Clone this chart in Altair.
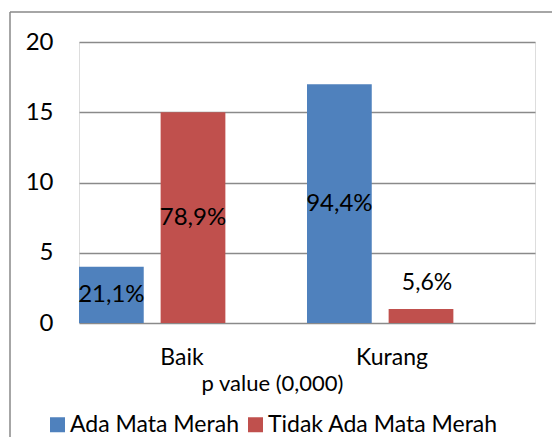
import altair as alt
import pandas as pd

categories = ["Baik", "Kurang"]
series = ["Ada Mata Merah", "Tidak Ada Mata Merah"]
ada_values = [4, 17]
tidak_values = [15, 1]
ada_labels = ["21,1%", "94,4%"]
tidak_labels = ["78,9%", "5,6%"]
colors = ["#4F81BD", "#C0504D"]

rows = []
for i, c in enumerate(categories):
    rows.append({"category": c, "series": series[0], "value": ada_values[i], "label": ada_labels[i]})
    rows.append({"category": c, "series": series[1], "value": tidak_values[i], "label": tidak_labels[i]})
df = pd.DataFrame(rows)

FONT = "Lato"

x_enc = alt.X(
    "category:N",
    scale=alt.Scale(domain=categories, paddingInner=0, paddingOuter=0),
    axis=alt.Axis(
        title="p value (0,000)",
        labelAngle=0,
        labelFont=FONT,
        labelFontSize=23,
        labelColor="#000000",
        labelPadding=23,
        labelOffset={"condition": {"test": "datum.value === 'Baik'", "value": -11}, "value": -29},
        ticks=False,
        domain=False,
        titleFont=FONT,
        titleFontSize=22,
        titleFontWeight="normal",
        titleColor="#000000",
        titleX=193,
        titleY=67,
        titleAlign="center",
        titleBaseline="alphabetic",
    ),
)
xoff_enc = alt.XOffset(
    "series:N",
    scale=alt.Scale(domain=series + ["_"], paddingInner=0.207, paddingOuter=0),
)

bars = alt.Chart(df).mark_bar().encode(
    x=x_enc,
    xOffset=xoff_enc,
    y=alt.Y(
        "value:Q",
        scale=alt.Scale(domain=[0, 20], nice=False),
        axis=alt.Axis(
            title=None,
            values=[0, 5, 10, 15, 20],
            grid=True,
            gridColor="#8a8a8a",
            gridWidth=1.5,
            domain=False,
            ticks=False,
            labelFont=FONT,
            labelFontSize=24,
            labelColor="#000000",
            labelPadding=26,
        ),
    ),
    color=alt.Color(
        "series:N",
        scale=alt.Scale(domain=series, range=colors),
        legend=alt.Legend(
            orient="none",
            legendX=-33,
            legendY=371,
            direction="horizontal",
            title=None,
            symbolType="square",
            symbolSize=225,
            symbolStrokeWidth=0,
            labelFont=FONT,
            labelFontSize=23,
            labelColor="#000000",
            labelLimit=400,
            labelOffset=1,
            columnPadding=5,
            padding=0,
        ),
    ),
)

inside = alt.Chart(df).transform_filter("datum.value >= 2").transform_calculate(
    mid="datum.value / 2"
).mark_text(font=FONT, fontSize=24, color="#000000", baseline="middle").encode(
    x=alt.X("category:N", scale=alt.Scale(domain=categories, paddingInner=0, paddingOuter=0)),
    xOffset=xoff_enc,
    y=alt.Y("mid:Q"),
    text="label:N",
)

outside = alt.Chart(df).transform_filter("datum.value < 2").mark_text(
    font=FONT, fontSize=23, color="#000000", baseline="middle", dy=-26, dx=6
).encode(
    x=alt.X("category:N", scale=alt.Scale(domain=categories, paddingInner=0, paddingOuter=0)),
    xOffset=xoff_enc,
    y=alt.Y("value:Q"),
    text="label:N",
)

frame = alt.Data(values=[{}])
border_top = alt.Chart(frame).mark_rule(stroke="#898989", strokeWidth=1.5).encode(
    x=alt.value(-69), x2=alt.value(600), y=alt.value(-30)
)
border_left = alt.Chart(frame).mark_rule(stroke="#898989", strokeWidth=1.5).encode(
    x=alt.value(-69), y=alt.value(-30), y2=alt.value(500)
)

chart = alt.layer(border_top, border_left, bars, inside, outside).properties(
    width=456,
    height=281,
    padding={"left": 71, "top": 34, "right": 17, "bottom": 114},
    autosize=alt.AutoSizeParams(type="none"),
).configure_view(stroke=None).configure(background="#ffffff")

chart.save("out.html", embed_options={"renderer": "svg", "actions": False})
